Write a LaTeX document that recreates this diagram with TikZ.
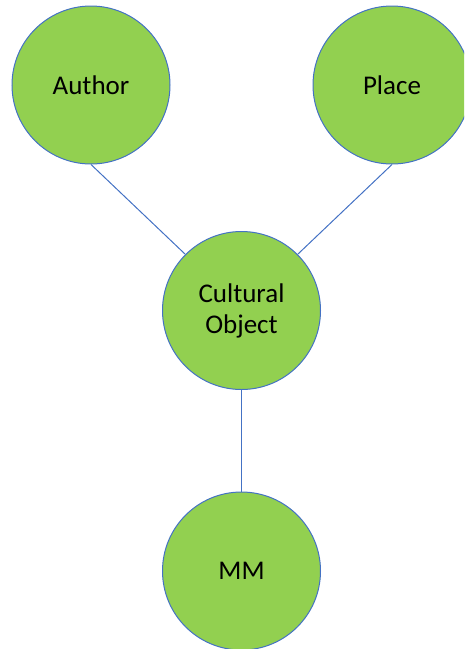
\documentclass[tikz,border=0pt]{standalone}
\usepackage{fontspec}
\setmainfont{Carlito}
\usepackage{tikz}
\usetikzlibrary{positioning}

\definecolor{ballgreen}{HTML}{92D050}
\definecolor{edgeblue}{HTML}{4472C4}

\begin{document}
\begin{tikzpicture}[x=1pt,y=-1pt,
    ball/.style={circle,draw=edgeblue,fill=ballgreen,line width=1pt,minimum size=158pt,inner sep=0pt,align=center,font=\fontsize{27}{31}\selectfont},
    link/.style={draw=edgeblue,line width=1pt}]
              \useasboundingbox (0,0) rectangle (464,649);
              \clip (0,0) rectangle (464,649);
              \node[ball] (a) at (91,85) {Author};
              \node[ball,right=142pt of a] (b) {Place};
              \node[ball] (c) at (241.5,310.5) {Cultural\\Object};
              \node[ball,below=101.5pt of c] (d) {MM};

              %a,b>c
              \draw[link] (a.south) -- (c.north west);
              \draw[link] (b.south) -- (c.north east);

              %c>d
              \draw[link] (c.south) -- (d.north);
            \end{tikzpicture}
\end{document}
